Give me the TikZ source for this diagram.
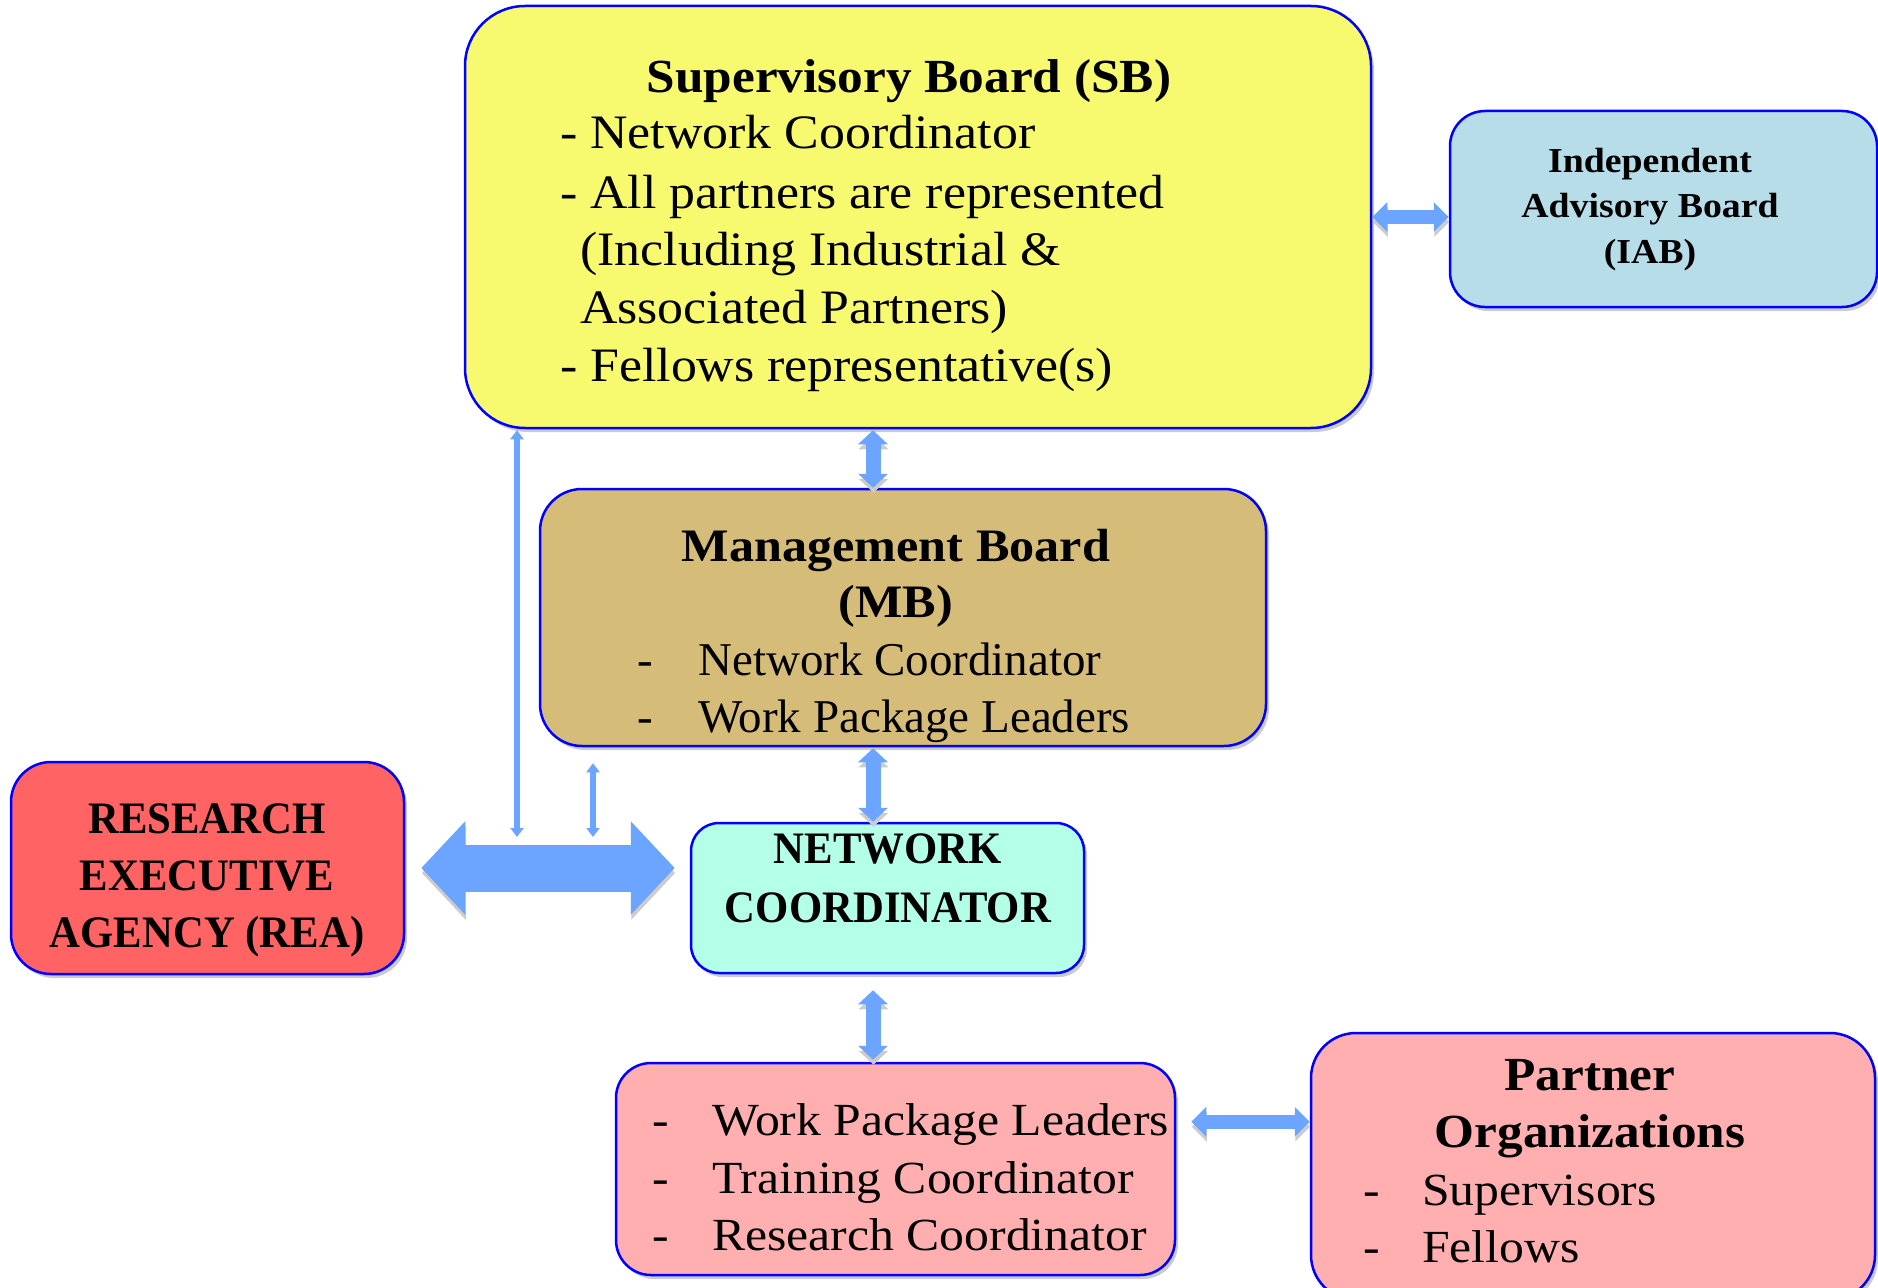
\documentclass[tikz,border=0pt]{standalone}
\usepackage{fontspec}
\setmainfont{Liberation Serif}
\newfontfamily\camw[FakeStretch=1.08]{Liberation Serif}
\newfontfamily\camn[FakeStretch=0.95]{Liberation Serif}
\usetikzlibrary{arrows.meta,shadows,calc}
\definecolor{sbY}{RGB}{247,249,110}
\definecolor{iabB}{RGB}{183,221,232}
\definecolor{mbT}{RGB}{213,188,120}
\definecolor{reaR}{RGB}{255,99,99}
\definecolor{ncM}{RGB}{179,255,231}
\definecolor{pkP}{RGB}{255,175,175}
\definecolor{arrC}{RGB}{108,165,255}
\definecolor{bordB}{RGB}{0,0,255}
\tikzset{
  box/.style={draw=bordB, line width=2.5pt, rounded corners=#1, inner sep=0pt,
    drop shadow={shadow xshift=3pt, shadow yshift=-4pt, fill=black!45, opacity=0.45}},
  tl/.style={inner sep=0pt, anchor=base west},
  tc/.style={inner sep=0pt, anchor=base},
  ashadow/.style={preaction={draw=black!20, transform canvas={shift={(0.5pt,-5pt)}}}},
  fatv/.style={ashadow, draw=arrC, line width=15pt, >={Triangle[width=29pt,length=14pt]}, <->},
  fath/.style={ashadow, draw=arrC, line width=14pt, >={Triangle[width=29pt,length=15pt]}, <->},
  thinv/.style={draw=arrC, line width=6pt, >={Triangle[width=13pt,length=9pt]}, <->},
  bigarrow/.style={ashadow, draw=arrC, line width=47pt, >={Triangle[width=91pt,length=44pt]}, <->},
  fsb/.style={font=\camw\fontsize{48}{58}\selectfont},
  fsbb/.style={font=\camw\bfseries\fontsize{47.5}{58}\selectfont},
  fmbb/.style={font=\camw\bfseries\fontsize{46.5}{58}\selectfont},
  fiab/.style={font=\camw\bfseries\fontsize{35}{45}\selectfont},
  fmbl/.style={font=\fontsize{47}{57}\selectfont},
  fcaps/.style={font=\camn\bfseries\fontsize{45}{57}\selectfont},
  fwp/.style={font=\camw\fontsize{46}{58}\selectfont},
}
\begin{document}
\begin{tikzpicture}[x=1pt,y=-1pt]
\useasboundingbox (0,0) rectangle (1878,1287);
% boxes
\node[box=60, fill=sbY, minimum width=906pt, minimum height=422pt] (sb) at (918,217) {};
\node[box=35, fill=iabB, minimum width=427pt, minimum height=196pt] (iab) at (1663.5,209) {};
\node[box=42, fill=mbT, minimum width=726pt, minimum height=257pt] (mb) at (903,617.5) {};
\node[box=40, fill=reaR, minimum width=393pt, minimum height=212pt] (rea) at (207.5,868) {};
\node[box=28, fill=ncM, minimum width=393pt, minimum height=150pt] (nc) at (887.5,898) {};
\node[box=35, fill=pkP, minimum width=559pt, minimum height=212pt] (wp) at (895.5,1169) {};
\node[box=45, fill=pkP, minimum width=564pt, minimum height=267pt] (pa) at (1593,1166.5) {};
% SB text
\node[tc, fsbb] (sbt) at (909,93) {Supervisory Board (SB)};
\node[tl, fsb] (sb1) at (560,149) {- Network Coordinator};
\node[tl, fsb] (sb2) at (560,208) {- All partners are represented};
\node[tl, fsb] (sb3) at (580,265) {(Including Industrial \&};
\node[tl, fsb] (sb4) at (580,323) {Associated Partners)};
\node[tl, fsb] (sb5) at (560,381) {- Fellows representative(s)};
% IAB text
\node[tc, fiab] (iab1) at (1650,172) {Independent};
\node[tc, fiab] (iab2) at (1650,217) {Advisory Board};
\node[tc, fiab] (iab3) at (1650,263) {(IAB)};
% MB text
\node[tc, fmbb] (mbt1) at (896,561) {Management Board};
\node[tc, fmbb] (mbt2) at (896,617) {(MB)};
\node[tl, fmbl] (mbd1) at (637,675) {-};
\node[tl, fmbl] (mb1) at (698,675) {Network Coordinator};
\node[tl, fmbl] (mbd2) at (637,732) {-};
\node[tl, fmbl] (mb2) at (698,732) {Work Package Leaders};
% REA text
\node[tc, fcaps] (rea1) at (207,833) {RESEARCH};
\node[tc, fcaps] (rea2) at (207,890) {EXECUTIVE};
\node[tc, fcaps] (rea3) at (207,947) {AGENCY (REA)};
% NC text
\node[tc, fcaps] (nc1) at (888,863) {NETWORK};
\node[tc, fcaps] (nc2) at (888,922) {COORDINATOR};
% WP text
\node[tl, fwp] (wpd1) at (652,1135) {-};
\node[tl, fwp] (wp1) at (712,1135) {Work Package Leaders};
\node[tl, fwp] (wpd2) at (652,1193) {-};
\node[tl, fwp] (wp2) at (712,1193) {Training Coordinator};
\node[tl, fwp] (wpd3) at (652,1250) {-};
\node[tl, fwp] (wp3) at (712,1250) {Research Coordinator};
% Partner text
\node[tc, fsbb] (pat1) at (1590,1090) {Partner};
\node[tc, fsbb] (pat2) at (1590,1147) {Organizations};
\node[tl, fwp] (pad1) at (1363,1205) {-};
\node[tl, fwp] (pa1) at (1422,1205) {Supervisors};
\node[tl, fwp] (pad2) at (1363,1262) {-};
\node[tl, fwp] (pa2) at (1422,1262) {Fellows};
% connectors
\coordinate (ax) at (873,0);
\coordinate (lx) at (517,0);
\coordinate (sx) at (593,0);
\coordinate (bartop) at ($(rea.east)+(0,-31)$);
\draw[fatv] ($(sb.south -| ax)+(0,1)$) -- (mb.north -| ax);
\draw[fatv] ($(mb.south -| ax)+(0,1)$) -- (nc.north -| ax);
\draw[fatv] ($(nc.south -| ax)+(0,16)$) -- ($(wp.north -| ax)+(0,-2)$);
\draw[fath] (sb.east) -- (sb.east -| iab.west);
\draw[fath] ($(wp.north east)+(15,60)$) -- ($(wp.north east -| pa.west)+(0,60)$);
\draw[bigarrow] ($(rea.east)+(16,0)$) -- ($(rea.east -| nc.west)+(-15,0)$);
\draw[thinv] ($(sb.south -| lx)+(0,1)$) -- (bartop -| lx);
\draw[thinv] ($(mb.south -| sx)+(0,16)$) -- (bartop -| sx);
\end{tikzpicture}
\end{document}
